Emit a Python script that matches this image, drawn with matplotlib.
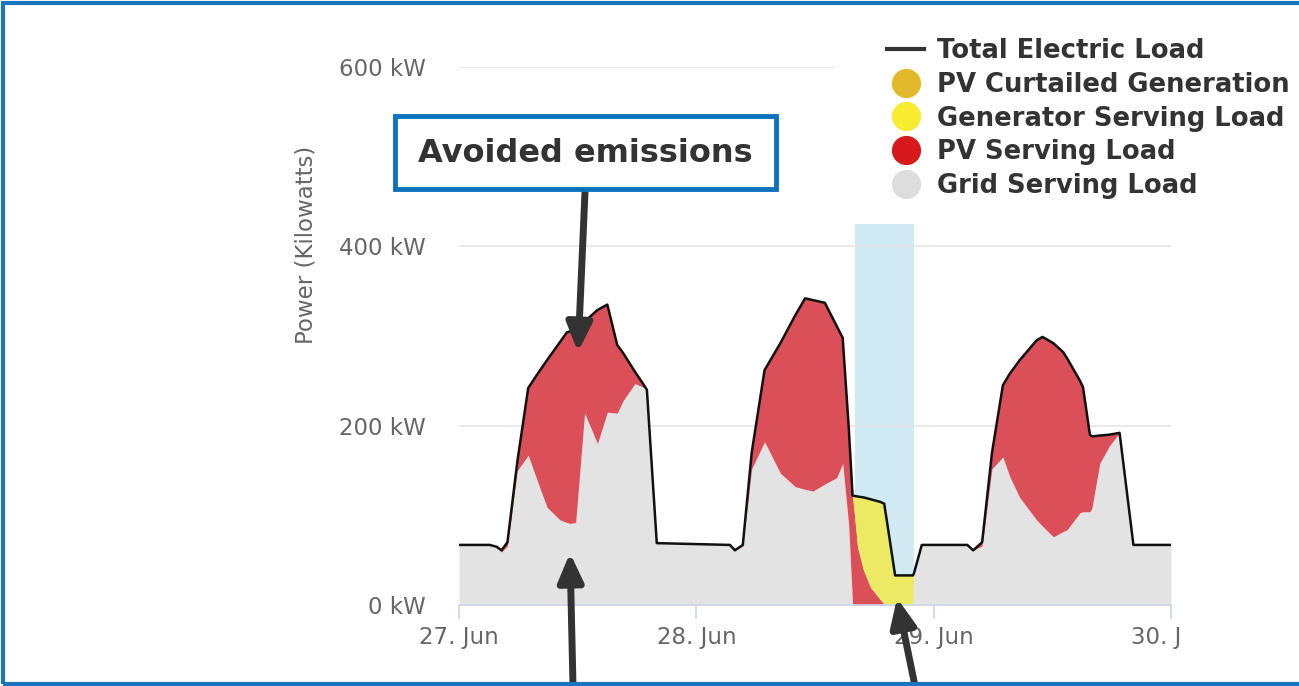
import matplotlib
matplotlib.use("Agg")
import matplotlib.pyplot as plt
import numpy as np
from matplotlib.lines import Line2D
from matplotlib.patches import Rectangle
from matplotlib.transforms import Bbox, TransformedBbox

# hours since 27 Jun 00:00
hours = [0, 3.1, 3.8, 4.3, 4.9, 5.9, 7.0, 7.9, 8.9, 10.2, 10.9, 11.2, 11.8, 12.7,
         14.0, 15.0, 16.0, 16.6, 17.8, 18.6, 19.0, 20.0,
         27.4, 27.9, 28.7, 29.6, 30.9, 32.5, 34.0, 35.0, 35.8, 37.0, 38.2, 38.8,
         39.4, 39.8, 40.3, 40.9, 41.6, 42.6, 43.0, 43.5, 44.1, 45.9, 46.0, 46.8,
         51.4, 52.0, 52.9, 53.9, 55.0, 55.7, 56.7, 58.4, 59.0, 60.1, 61.1, 61.5,
         62.8, 63.1, 63.8, 64.0, 64.8, 65.8, 66.8, 68.2, 72.0]

total_load = [67, 67, 65, 61, 70, 160, 242, 257, 273, 293, 304, 305, 306, 316,
              329, 335, 290, 281, 260, 247, 240, 69,
              67, 61, 67, 170, 262, 292, 323, 342, 340, 337, 311, 298,
              200, 122, 121, 120, 118, 115, 113, 77, 33, 33, 35, 67,
              67, 61, 70, 170, 245, 258, 273, 295, 299, 292, 282, 275,
              250, 243, 190, 188, 189, 190, 192, 67, 67]

grid_load = [67, 67, 65, 59, 66, 150, 167, 139, 109, 95, 92, 91, 92, 214,
             180, 215, 214, 228, 247, 243, 240, 69,
             67, 61, 66, 152, 182, 147, 132, 129, 127, 135, 142, 158,
             90, 0, 0, 0, 0, 0, 0, 0, 0, 0, 35, 67,
             67, 61, 66, 152, 165, 143, 120, 95, 88, 76, 82, 84,
             103, 104, 104, 108, 158, 178, 192, 67, 67]

generator_load = [0] * 36 + [56, 81, 98, 109, 112, 77, 33, 33] + [0] * 23

outage = (40, 46)
day_labels = ["27. Jun", "28. Jun", "29. Jun", "30. Jun"]
y_ticks = [0, 200, 400, 600]

t = np.array(hours)
total = np.array(total_load, dtype=float)
grid = np.array(grid_load, dtype=float)
gen = np.array(generator_load, dtype=float)
pv = total - grid - gen

W, H = 1299, 686
fig = plt.figure(figsize=(W / 100, H / 100), dpi=100)
ax = fig.add_axes([459 / W, 81 / H, 712 / W, 538 / H])

# outage band
ax.axvspan(*outage, ymin=0, ymax=425 / 600, color="#d0ebf4", lw=0, zorder=0)

for yv in y_ticks[1:]:
    xmax = 0.528 if yv == 600 else 1
    ax.axhline(yv, xmax=xmax, color="#e6e6e6", lw=1.2, zorder=0.5)

ax.fill_between(t, 0, grid, color="#e3e3e3", lw=0, zorder=1)
ax.fill_between(t, grid, grid + pv, color="#da4f58", lw=0, zorder=1)
ax.fill_between(t, grid + pv, total, color="#ecea62", lw=0, zorder=1)
ax.plot(t, total, color="#111111", lw=1.8, zorder=3)

ax.set_xlim(0, 72)
ax.set_ylim(0, 600)
for s in ["top", "right", "left"]:
    ax.spines[s].set_visible(False)
ax.spines["bottom"].set_color("#ccd6eb")
ax.spines["bottom"].set_linewidth(1.2)

ax.set_yticks(y_ticks)
ax.set_yticklabels([f"{v} kW" for v in y_ticks])
ax.tick_params(axis="y", length=0, pad=24, labelsize=16.5, labelcolor="#666666")
ax.set_xticks([0, 24, 48, 72])
ax.set_xticklabels(day_labels)
ax.tick_params(axis="x", length=10, width=1.2, color="#ccd6eb", pad=5,
               labelsize=16.5, labelcolor="#666666")
clip = TransformedBbox(Bbox([[0, 0], [1181 / W, 1]]), fig.transFigure)
for lab in ax.get_xticklabels():
    lab.set_clip_box(clip)
    lab.set_clip_on(True)

ax.set_ylabel("Power (Kilowatts)", fontsize=16.5, color="#666666")
ax.yaxis.set_label_coords(-0.199, 0.67)

handles = [
    Line2D([], [], color="#333333", lw=3),
    Line2D([], [], ls="", marker="o", ms=20, color="#e3b92c"),
    Line2D([], [], ls="", marker="o", ms=20, color="#f7ec30"),
    Line2D([], [], ls="", marker="o", ms=20, color="#d7191c"),
    Line2D([], [], ls="", marker="o", ms=20, color="#dddddd"),
]
labels = ["Total Electric Load", "PV Curtailed Generation", "Generator Serving Load",
          "PV Serving Load", "Grid Serving Load"]
leg = fig.legend(handles, labels, loc="upper left", bbox_to_anchor=(887 / W, 1 - 38 / H),
                 frameon=False, handlelength=1.45, handletextpad=0.5,
                 labelspacing=0.3, borderpad=0, borderaxespad=0,
                 prop={"weight": "bold", "size": 18.6})
for txt in leg.get_texts():
    txt.set_color("#333333")

# callout box
fig.add_artist(Rectangle((395 / W, 1 - 189 / H), 381 / W, 73 / H, transform=fig.transFigure,
                         fc="white", ec="#0c72bd", lw=3.5, zorder=5))
fig.text(585 / W, 1 - 153 / H, "Avoided emissions", ha="center", va="center",
         fontsize=23, fontweight="bold", color="#333333", zorder=6)

arrow = dict(arrowstyle="-|>,head_width=0.38,head_length=0.85", lw=5, color="#333333",
             shrinkA=0, shrinkB=0, mutation_scale=20)
for (x0, y0), (x1, y1) in [((585, 494), (578, 334)), ((573, 0), (570, 133)),
                           ((915, 0), (897, 88))]:
    ax.annotate("", xy=(x1, y1), xytext=(x0, y0), xycoords="figure pixels",
                textcoords="figure pixels", arrowprops=arrow, zorder=7,
                annotation_clip=False)

# frame around the slide graphic
fig.add_artist(Rectangle((3 / W, 2 / H), 1.02, 1 - 5 / H, transform=fig.transFigure,
                         fc="none", ec="#1b75bb", lw=3, zorder=8))

fig.savefig("out.png", dpi=100)
